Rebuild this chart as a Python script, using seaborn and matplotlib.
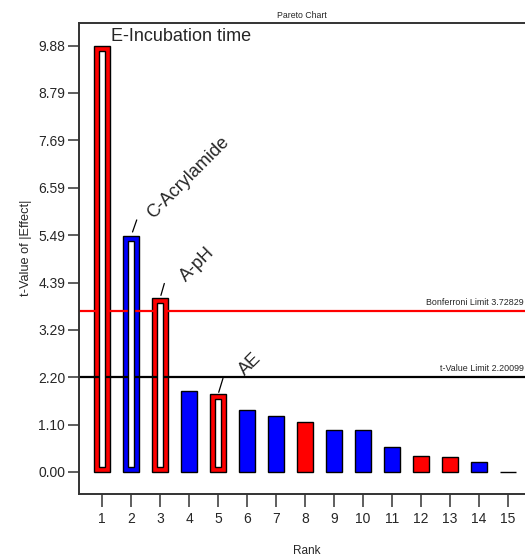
import matplotlib
matplotlib.use("Agg")
import matplotlib.pyplot as plt
import seaborn as sns
import pandas as pd

# Pareto chart of standardized effects
ranks = list(range(1, 16))
t_values = [9.88, 5.47, 4.03, 1.88, 1.80, 1.44, 1.29, 1.16, 0.97, 0.97, 0.57, 0.36, 0.34, 0.23, 0.01]
effect_sign = ["+", "-", "+", "-", "+", "-", "-", "+", "-", "-", "-", "+", "+", "-", "-"]
term_labels = ["E-Incubation time", "C-Acrylamide", "A-pH", "", "AE",
               "", "", "", "", "", "", "", "", "", ""]
outlined = [True, True, True, False, True, False, False, False, False, False,
            False, False, False, False, False]
y_ticks = [0.00, 1.10, 2.20, 3.29, 4.39, 5.49, 6.59, 7.69, 8.79, 9.88]
y_tick_labels = ["0.00", "1.10", "2.20", "3.29", "4.39", "5.49", "6.59", "7.69", "8.79", "9.88"]
bonferroni_limit = 3.72829
t_value_limit = 2.20099

df = pd.DataFrame({"Rank": [str(r) for r in ranks], "t": t_values, "sign": effect_sign})

sns.set_theme(style="white")
plt.rcParams["font.family"] = ["Liberation Sans", "DejaVu Sans"]

fig = plt.figure(figsize=(5.25, 5.56), dpi=100)
ax = fig.add_axes([0.1505, 0.1115, 0.8495, 0.8477])

sns.barplot(data=df, x="Rank", y="t", hue="sign", order=[str(r) for r in ranks],
            palette={"+": "#ff0000", "-": "#0000ff"}, dodge=False, legend=False,
            width=0.55, edgecolor="black", linewidth=1.0, saturation=1, ax=ax)

# white cores of the highlighted effects
for i, (v, hollow) in enumerate(zip(t_values, outlined)):
    if hollow:
        ax.bar(i, v - 0.24, bottom=0.12, width=0.2, color="white",
               edgecolor="black", linewidth=1.0, zorder=3)

# significance limits
ax.axhline(bonferroni_limit, color="#ff0000", lw=1.6, zorder=1)
ax.axhline(t_value_limit, color="black", lw=1.6, zorder=1)
ax.annotate(f"Bonferroni Limit {bonferroni_limit}", xy=(1.0, bonferroni_limit),
            xycoords=("axes fraction", "data"), xytext=(-1, 3), textcoords="offset points",
            ha="right", va="bottom", fontsize=6.4)
ax.annotate(f"t-Value Limit {t_value_limit}", xy=(1.0, t_value_limit),
            xycoords=("axes fraction", "data"), xytext=(-1, 3), textcoords="offset points",
            ha="right", va="bottom", fontsize=6.4)

# term labels
ax.annotate(term_labels[0], xy=(0, t_values[0]), xytext=(6, 3), textcoords="offset points",
            ha="left", va="baseline", fontsize=13)
offsets = {1: ((1.5, 3), (4, 11.5), (16, 12)),
           2: ((0.8, 2), (3, 10.5), (19, 11.5)),
           4: ((0.8, 1.5), (3.5, 11.5), (19, 13.5))}
for i, (p0, p1, pt) in offsets.items():
    ax.annotate("", xy=(i, t_values[i]), xytext=p1, textcoords="offset points",
                arrowprops=dict(arrowstyle="-", color="black", lw=0.9,
                                shrinkA=0, shrinkB=p0[1] * 1.0))
    ax.annotate(term_labels[i], xy=(i, t_values[i]), xytext=pt, textcoords="offset points",
                ha="left", va="baseline", rotation=45, rotation_mode="anchor", fontsize=13)

ax.set_xlim(-0.8, 14.59)
ax.set_ylim(-0.51, 10.41)
ax.set_yticks(y_ticks)
ax.set_yticklabels(y_tick_labels)

for side in ["left", "bottom", "top"]:
    ax.spines[side].set_color("#333333")
    ax.spines[side].set_linewidth(1.4)
ax.spines["right"].set_visible(False)

ax.tick_params(axis="y", direction="out", length=8, width=1.1, color="#333333",
               pad=2, labelsize=10, left=True)
ax.tick_params(axis="x", direction="out", length=9, width=1.1, color="#333333",
               pad=4, labelsize=10, bottom=True)

ax.set_title("Pareto Chart", fontsize=6.3, pad=3.5)
ax.set_xlabel("Rank", fontsize=8.5)
ax.set_ylabel("t-Value of |Effect|", fontsize=9.2)
ax.yaxis.set_label_coords(-0.105, 0.523)
ax.xaxis.set_label_coords(0.51, -0.108)
ax.xaxis.label.set_va("top")

fig.savefig("out.png", dpi=100)
